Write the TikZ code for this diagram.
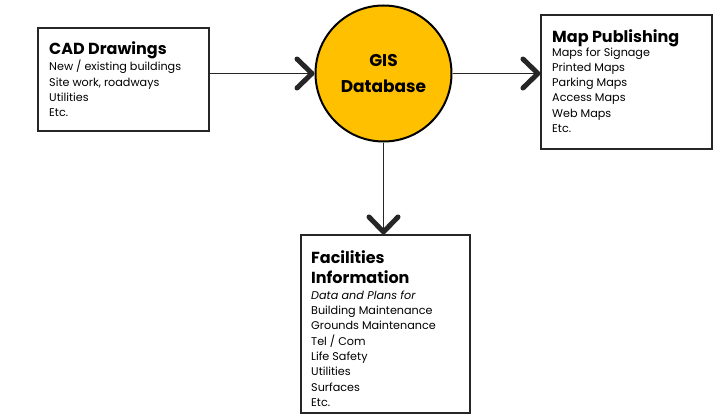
\documentclass[tikz,border=0pt]{standalone}
\usepackage{fontspec}
\setmainfont{Poppins}
\usetikzlibrary{arrows.meta}
\definecolor{gold}{HTML}{FFC000}
\begin{document}
\begin{tikzpicture}[x=1pt,y=-1pt,
  box/.style={draw=black!85, line width=1.1pt, rectangle, inner sep=0pt},
  conn/.style={draw=black!85, line width=1pt, -{Straight Barb[length=15pt,width=29pt,line width=5pt,round]}},
  ttl/.style={anchor=base west, inner sep=0pt, font=\fontsize{16}{20}\selectfont\bfseries},
  body/.style={anchor=base west, inner sep=0pt, font=\fontsize{11.2}{15.3}\selectfont}
]
\useasboundingbox (0,0) rectangle (715,415);
% boxes
\node[box, minimum width=171pt, minimum height=103pt] (cad) at (123.5,79.5) {};
\node[box, minimum width=171pt, minimum height=134pt] (map) at (626.5,82) {};
\node[box, minimum width=169pt, minimum height=178pt] (fac) at (385.5,324) {};
\node[circle, draw=black, line width=2pt, fill=gold, minimum size=136pt, inner sep=0pt,
      font=\fontsize{17}{26}\selectfont\bfseries, align=center] (gis) at (383.5,73.5) {GIS\\Database};
% texts
\node[ttl] (cadt) at (49,54.3) {CAD Drawings};
\node[body] (cadb) at (49,70.7) {\begin{tabular}[t]{@{}l@{}}New / existing buildings\\Site work, roadways\\Utilities\\Etc.\end{tabular}};
\node[ttl] (mapt) at (552,42.3) {Map Publishing};
\node[body] (mapb) at (552,56) {\begin{tabular}[t]{@{}l@{}}Maps for Signage\\Printed Maps\\Parking Maps\\Access Maps\\Web Maps\\Etc.\end{tabular}};
\node[ttl] (fact) at (311,263.3) {\begin{tabular}[t]{@{}l@{}}Facilities\\Information\end{tabular}};
\node[body] (facb) at (311,299.3) {\begin{tabular}[t]{@{}l@{}}\textit{Data and Plans for}\\Building Maintenance\\Grounds Maintenance\\Tel / Com\\Life Safety\\Utilities\\Surfaces\\Etc.\end{tabular}};
% connectors
\draw[conn] (gis.west -| cad.east) -- (gis.west);
\draw[conn] (gis.east) -- (gis.east -| map.west);
\draw[conn] (gis.south) -- (gis.south |- fac.north);
\end{tikzpicture}
\end{document}
